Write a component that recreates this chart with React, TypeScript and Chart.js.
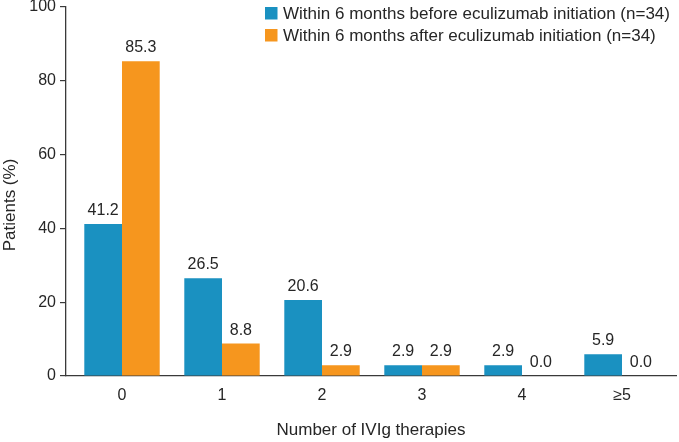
import React, { useEffect, useRef } from 'react';
import { Chart, registerables } from 'chart.js';

Chart.register(...registerables);

const categories = ['0', '1', '2', '3', '4', '≥5'];
const beforeValues = [41.2, 26.5, 20.6, 2.9, 2.9, 5.9];
const afterValues = [85.3, 8.8, 2.9, 2.9, 0.0, 0.0];
const seriesNames = [
  'Within 6 months before eculizumab initiation (n=34)',
  'Within 6 months after eculizumab initiation (n=34)',
];
const yTicks = [0, 20, 40, 60, 80, 100];
const seriesColors = ['#1a91c1', '#f6961e'];
const yTitle = 'Patients (%)';
const xTitle = 'Number of IVIg therapies';

const FAMILY = '"Liberation Sans", Arial, Helvetica, sans-serif';
const TEXT = '#262626';
const AXIS = '#3a3a3a';

const overlayPlugin = {
  id: 'overlay',
  afterDatasetsDraw(chart: any) {
    const ctx = chart.ctx;
    ctx.save();
    // data labels
    ctx.fillStyle = TEXT;
    ctx.font = `16px ${FAMILY}`;
    ctx.textAlign = 'center';
    ctx.textBaseline = 'alphabetic';
    chart.data.datasets.forEach((ds: any, di: number) => {
      const meta = chart.getDatasetMeta(di);
      meta.data.forEach((el: any, i: number) => {
        const v = ds.data[i].y;
        ctx.fillText(v.toFixed(1), el.x, el.y - 9);
      });
    });
    // legend
    ctx.font = `17px ${FAMILY}`;
    ctx.textAlign = 'left';
    const rows = [19.3, 41.3];
    seriesNames.forEach((name, i) => {
      ctx.fillStyle = seriesColors[i];
      ctx.fillRect(265, rows[i] - 12.3, 12.5, 12.5);
      ctx.fillStyle = TEXT;
      ctx.fillText(name, 283, rows[i]);
    });
    // x title
    const area = chart.chartArea;
    ctx.textAlign = 'center';
    ctx.fillText(xTitle, (area.left + area.right) / 2, 434.5);
    // y title
    ctx.translate(15, 205);
    ctx.rotate(-Math.PI / 2);
    ctx.fillText(yTitle, 0, 0);
    ctx.restore();
  },
};

export default function App() {
  const ref = useRef<HTMLCanvasElement>(null);
  useEffect(() => {
    if (!ref.current) return;
    const font = { family: FAMILY, size: 16 };
    const chart = new Chart(ref.current, {
      type: 'bar',
      data: {
        datasets: [
          {
            label: seriesNames[0],
            data: categories.map((_, i) => ({ x: i, y: beforeValues[i] })),
            backgroundColor: seriesColors[0],
            borderWidth: 0,
            categoryPercentage: 0.754,
            barPercentage: 1,
          },
          {
            label: seriesNames[1],
            data: categories.map((_, i) => ({ x: i, y: afterValues[i] })),
            backgroundColor: seriesColors[1],
            borderWidth: 0,
            categoryPercentage: 0.754,
            barPercentage: 1,
          },
        ],
      },
      options: {
        responsive: false,
        animation: false,
        devicePixelRatio: 1,
        layout: { padding: { top: 7, right: 3, left: 0, bottom: 0 } },
        plugins: { legend: { display: false }, tooltip: { enabled: false } },
        scales: {
          x: {
            type: 'linear',
            offset: false,
            min: -0.56,
            max: 5.54,
            afterBuildTicks: (axis: any) => {
              axis.ticks = categories.map((_, i) => ({ value: i }));
            },
            afterFit: (s: any) => {
              s.height = 66;
              s.paddingLeft = 0;
              s.paddingRight = 0;
            },
            ticks: {
              font,
              color: TEXT,
              padding: 10,
              autoSkip: false,
              maxRotation: 0,
              callback: (v: any) => categories[v] ?? '',
            },
            grid: { display: false, drawTicks: false, offset: false },
            border: { display: true, color: AXIS, width: 1.3 },
          },
          y: {
            type: 'linear',
            min: 0,
            max: 100,
            afterBuildTicks: (axis: any) => {
              axis.ticks = yTicks.map((v) => ({ value: v }));
            },
            afterFit: (s: any) => {
              s.width = 66;
              s.paddingTop = 0;
              s.paddingBottom = 0;
            },
            ticks: { font, color: TEXT, padding: 4 },
            grid: {
              display: true,
              drawOnChartArea: false,
              drawTicks: true,
              tickLength: 6,
              color: AXIS,
              lineWidth: 1.2,
            },
            border: { display: true, color: AXIS, width: 1.3 },
          },
        },
      },
      plugins: [overlayPlugin],
    } as any);
    return () => chart.destroy();
  }, []);
  return (
    <div style={{ position: 'fixed', left: 0, top: 0, width: 679, height: 442, background: '#fff' }}>
      <canvas ref={ref} width={679} height={442} style={{ display: 'block' }} />
    </div>
  );
}
